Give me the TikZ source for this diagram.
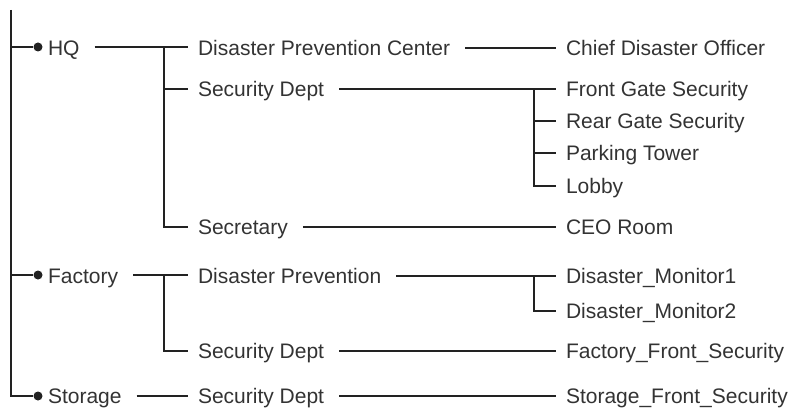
\documentclass[tikz,border=0pt]{standalone}
\usepackage{fontspec}
\setmainfont{Liberation Sans}
\usetikzlibrary{calc}
\definecolor{orgline}{RGB}{34, 34, 34}
\definecolor{orgtext}{RGB}{51, 51, 51}

\begin{document}
\begin{tikzpicture}[x=1pt, y=-1pt,
    wire/.style={line width=2pt, orgline},
    link/.style={wire, shorten <=15pt, shorten >=10pt},
    tick/.style={wire, shorten >=10pt},
    item/.style={anchor=west, inner sep=0pt, outer sep=0pt, text=orgtext,
        font=\fontsize{21}{25}\selectfont, text height=15pt, text depth=0pt},
    dot/.style={circle, fill=orgline, inner sep=0pt, minimum size=9pt}]

\useasboundingbox (0,0) rectangle (798,409);

% ============================================================
% RAIZ y sitios
% ============================================================
\coordinate (top) at (11,10);
\coordinate (busA) at (164,0);
\coordinate (busB) at (534,0);

\node[dot] (hqdot)  at (38,47)  {};
\node[dot] (facdot) at (38,275) {};
\node[dot] (stodot) at (38,396) {};

\node[item] (hq)  at (48,48)  {HQ};
\node[item] (fac) at (48,276) {Factory};
\node[item] (sto) at (48,396) {Storage};

% ============================================================
% Nivel 2 — departamentos
% ============================================================
\node[item] (dpc)  at (198,48)  {Disaster Prevention Center};
\node[item] (sdhq) at (198,89)  {Security Dept};
\node[item] (sec)  at (198,227) {Secretary};
\node[item] (dp)   at (198,276) {Disaster Prevention};
\node[item] (sdfa) at (198,351) {Security Dept};
\node[item] (sdst) at (198,396) {Security Dept};

% ============================================================
% Nivel 3 — puestos
% ============================================================
\node[item] (cdo)   at (566,48)  {Chief Disaster Officer};
\node[item] (fgs)   at (566,89)  {Front Gate Security};
\node[item] (rgs)   at (566,121) {Rear Gate Security};
\node[item] (park)  at (566,153) {Parking Tower};
\node[item] (lobby) at (566,186) {Lobby};
\node[item] (ceo)   at (566,227) {CEO Room};
\node[item] (mon1)  at (566,276) {Disaster\_Monitor1};
\node[item] (mon2)  at (566,311) {Disaster\_Monitor2};
\node[item] (ffs)   at (566,351) {Factory\_Front\_Security};
\node[item] (sfs)   at (566,396) {Storage\_Front\_Security};

% ============================================================
% Conectores
% ============================================================

% Tronco principal
\draw[wire] (top) |- (stodot);
\draw[wire] (top |- hqdot) -- (hqdot);
\draw[wire] (top |- facdot) -- (facdot);

% HQ
\draw[link] (hq.east |- hqdot) -- (dpc.west |- hqdot);
\draw[tick] (busA |- hqdot) |- (sec.west);
\draw[tick] (busA |- sdhq.west) -- (sdhq.west);
\draw[link] (dpc.east) -- (cdo.west);
\draw[link] (sdhq.east) -- (fgs.west);
\draw[tick] (busB |- fgs.west) |- (lobby.west);
\draw[tick] (busB |- rgs.west) -- (rgs.west);
\draw[tick] (busB |- park.west) -- (park.west);
\draw[link] (sec.east) -- (ceo.west);

% Factory
\draw[link] (fac.east |- facdot) -- (dp.west |- facdot);
\draw[tick] (busA |- facdot) |- (sdfa.west);
\draw[link] (dp.east) -- (mon1.west);
\draw[tick] (busB |- mon1.west) |- (mon2.west);
\draw[link] (sdfa.east) -- (ffs.west);

% Storage
\draw[link] (sto.east |- stodot) -- (sdst.west |- stodot);
\draw[link] (sdst.east) -- (sfs.west);

\end{tikzpicture}
\end{document}
